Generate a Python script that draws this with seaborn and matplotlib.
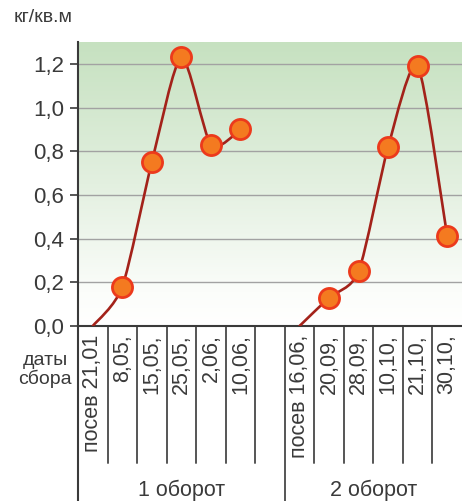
import numpy as np
import pandas as pd
import matplotlib
matplotlib.use("Agg")
import matplotlib.pyplot as plt
from matplotlib.path import Path
from matplotlib.patches import PathPatch
from matplotlib.colors import LinearSegmentedColormap
import seaborn as sns

# harvest dates (one column each), empty column separates the two rotations
dates = ["посев 21,01", "8,05,", "15,05,", "25,05,", "2,06,", "10,06,", "",
         "посев 16,06,", "20,09,", "28,09,", "10,10,", "21,10,", "30,10,"]
rotation_1 = [0.0, 0.18, 0.75, 1.23, 0.83, 0.90]   # kg per sq.m
rotation_2 = [0.0, 0.13, 0.25, 0.82, 1.19, 0.41]
y_ticks = [0.0, 0.2, 0.4, 0.6, 0.8, 1.0, 1.2]
y_tick_labels = ["0,0", "0,2", "0,4", "0,6", "0,8", "1,0", "1,2"]
group_labels = ["1 оборот", "2 оборот"]
unit_label = "кг/кв.м"
dates_label = "даты\nсбора"

LINE = "#a3221a"
FILL = "#f47a20"
EDGE = "#ec3a1c"
DARK = "#3a3a3a"


def smooth_path(xs, ys, k=0.12):
    """Catmull-Rom style curve through the points as cubic bezier segments."""
    pts = np.column_stack([xs, ys]).astype(float)
    n = len(pts)
    verts = [pts[0]]
    codes = [Path.MOVETO]
    for i in range(n - 1):
        p0 = pts[max(i - 1, 0)]
        p1 = pts[i]
        p2 = pts[i + 1]
        p3 = pts[min(i + 2, n - 1)]
        verts += [p1 + (p2 - p0) * k, p2 - (p3 - p1) * k, p2]
        codes += [Path.CURVE4] * 3
    return Path(verts, codes)


rows = []
for vals, start in [(rotation_1, 0), (rotation_2, 7)]:
    for j, v in enumerate(vals):
        rows.append({"pos": start + j, "value": v, "series": start, "sowing": j == 0})
df = pd.DataFrame(rows)

sns.set_style("white")
plt.rcParams["font.family"] = ["Liberation Sans", "DejaVu Sans"]

fig = plt.figure(figsize=(4.62, 5.01), dpi=100)
ax = fig.add_axes([78 / 462, 175 / 501, 384 / 462, 284 / 501])

ax.set_xlim(-0.5, len(dates) - 0.5)
ax.set_ylim(0, 1.3)

# green gradient background
cmap = LinearSegmentedColormap.from_list(
    "bg", [(0.0, "#ffffff"), (0.12, "#fbfdfa"), (0.5, "#e3f0e0"), (1.0, "#c6e1c0")])
grad = np.linspace(0, 1, 256).reshape(-1, 1)
ax.imshow(grad, extent=[-0.5, len(dates) - 0.5, 0, 1.3], origin="lower",
          aspect="auto", cmap=cmap, zorder=0)

for t in y_ticks[1:]:
    ax.axhline(t, color="#a2a2a2", lw=1.0, zorder=1)

for s, grp in df.groupby("series"):
    patch = PathPatch(smooth_path(grp["pos"], grp["value"]), facecolor="none",
                      edgecolor=LINE, lw=1.9, zorder=3, capstyle="round")
    ax.add_patch(patch)

sns.scatterplot(data=df[~df["sowing"]], x="pos", y="value", ax=ax, s=210,
                color=FILL, edgecolor=EDGE, linewidth=2, zorder=5, clip_on=False)

ax.set_yticks(y_ticks)
ax.set_yticklabels(y_tick_labels)
ax.set_xticks([])
ax.set_xlabel("")
ax.set_ylabel("")
ax.tick_params(axis="y", direction="out", length=6, width=1.2, color=DARK,
               labelsize=16, labelcolor=DARK, pad=4, left=True)
for side in ["top", "right"]:
    ax.spines[side].set_visible(False)
ax.spines["left"].set_color(DARK)
ax.spines["left"].set_linewidth(1.5)
ax.spines["bottom"].set_color(DARK)
ax.spines["bottom"].set_linewidth(1.5)
ax.spines["left"].set_zorder(6)

# table below the axis
tr = ax.get_xaxis_transform()
ax.plot([-0.5, -0.5], [0, -0.62], transform=tr, color=DARK, lw=1.5, clip_on=False)
for i in range(1, len(dates)):
    bottom = -0.62 if dates[i - 1] == "" else -0.482
    ax.plot([i - 0.5, i - 0.5], [0, bottom], transform=tr, color="#555555",
            lw=1.4, clip_on=False)
for i, lab in enumerate(dates):
    if lab:
        ax.text(i, -0.03, lab, transform=tr, rotation=90, ha="center", va="top",
                fontsize=15.5, color=DARK)

gap = dates.index("")
centers = [(-0.5 + gap + 0.5) / 2, (gap + 0.5 + len(dates) - 0.5) / 2]
for c, lab in zip(centers, group_labels):
    ax.text(c, -0.578, lab, transform=tr, ha="center", va="center",
            fontsize=15.5, color=DARK)

fig.text(45 / 462, 1 - 370 / 501, dates_label, ha="center", va="center",
         fontsize=14, color=DARK, linespacing=1.0)
fig.text(14 / 462, 1 - 18 / 501, unit_label, ha="left", va="center",
         fontsize=14, color=DARK)

fig.savefig("out.png", dpi=100, facecolor="white")
